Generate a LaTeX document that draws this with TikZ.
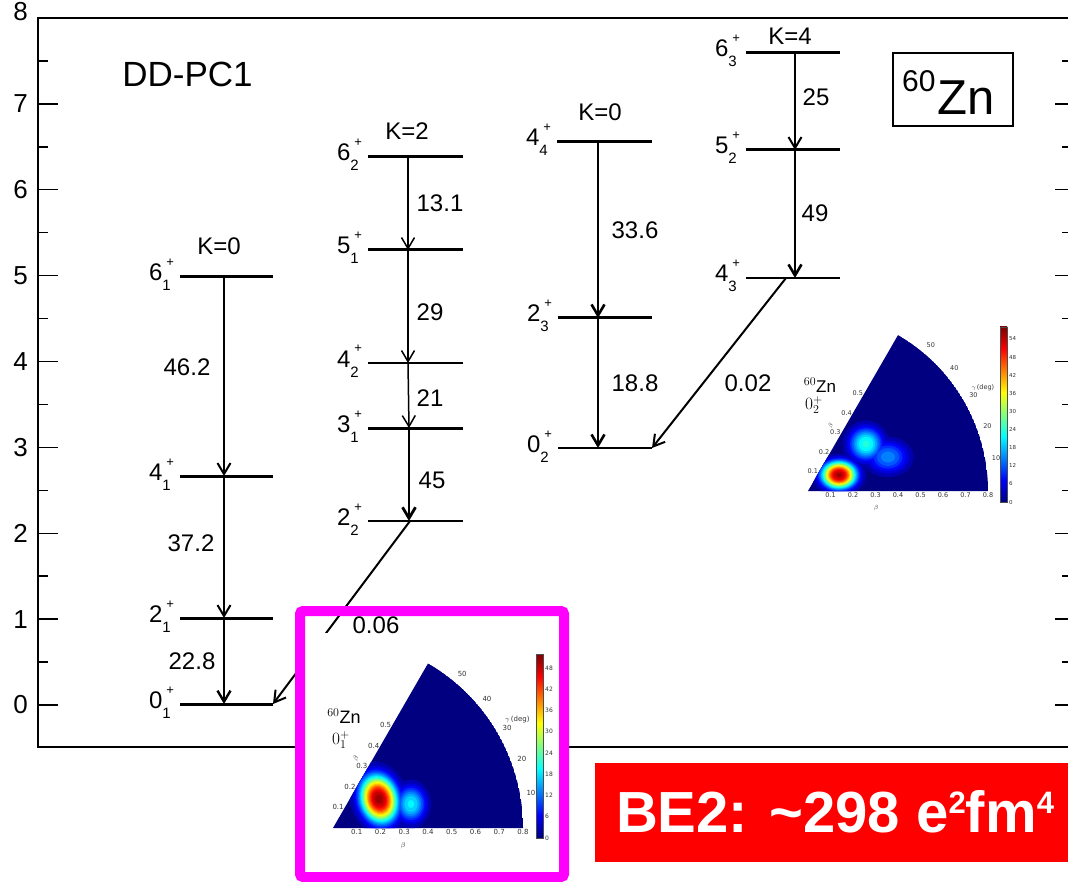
\documentclass[tikz,border=0pt]{standalone}
\usepackage[no-math]{fontspec}
\setmainfont{Liberation Sans}
\newfontfamily\dejavu{DejaVu Sans}
\usetikzlibrary{arrows.meta}
\definecolor{navyjet}{rgb}{0,0,0.5}
\definecolor{magbox}{rgb}{1,0,1}
\pgfdeclareverticalshading{jetbar}{100bp}{rgb(0bp)=(0,0,0.5); rgb(25bp)=(0,0,0.5); rgb(31.25bp)=(0,0,1); rgb(43.75bp)=(0,1,1); rgb(56.25bp)=(1,1,0); rgb(68.75bp)=(1,0,0); rgb(75bp)=(0.5,0,0); rgb(100bp)=(0.5,0,0)}
\newcommand{\lvl}[2]{#1\rlap{\kern4pt\raisebox{14pt}{\fontsize{13}{13}\selectfont +}}\raisebox{-10pt}{\fontsize{15}{15}\selectfont #2}}
\newcommand{\jetlevels}{0.03/0/0/0.70,0.07/0/0/0.86,0.11/0/0.02/1,0.15/0/0.18/1,0.19/0/0.34/1,0.23/0/0.50/1,0.27/0/0.66/1,0.31/0/0.82/1,0.35/0/0.98/1,0.39/0.14/1/0.86,0.43/0.30/1/0.70,0.47/0.46/1/0.54,0.51/0.62/1/0.38,0.55/0.78/1/0.22,0.59/0.94/1/0.06,0.63/1/0.90/0,0.67/1/0.74/0,0.71/1/0.58/0,0.75/1/0.42/0,0.79/1/0.26/0,0.83/1/0.10/0,0.87/0.94/0/0,0.91/0.78/0/0,0.95/0.62/0/0}
\newcommand{\myblobs}[1]{%
  \foreach \lev/\cR/\cG/\cB in \jetlevels {%
    \definecolor{jc}{rgb}{\cR,\cG,\cB}%
    \foreach \cx/\cy/\sx/\sy/\pk/\rot in {#1} {%
      \pgfmathtruncatemacro\ok{\pk>\lev}%
      \ifnum\ok=1
        \pgfmathsetmacro\fac{pow(ln(\pk/\lev),0.4)}%
        \pgfmathsetmacro\rx{\sx*\fac}%
        \pgfmathsetmacro\ry{\sy*\fac}%
        \fill[jc, rotate around={\rot:(\cx,\cy)}] (\cx,\cy) ellipse[x radius=\rx, y radius=\ry];
      \fi
    }%
  }%
}
\tikzset{
  lab/.style={font=\fontsize{24}{26}\selectfont, inner sep=0pt},
  axlab/.style={font=\fontsize{26}{28}\selectfont, inner sep=0pt},
  lvthick/.style={line width=3pt},
  lvthin/.style={line width=1.5pt},
  arr/.style={-{Straight Barb[length=11pt,width=13pt]}},
  axis/.style={line width=2.4pt},
  tickmk/.style={line width=1.5pt},
  itick/.style={font=\dejavu\fontsize{6.5}{7}\selectfont, inner sep=1pt, text=black!80},
  itickb/.style={font=\dejavu\fontsize{7}{7.5}\selectfont, inner sep=1pt, text=black!80},
}
\begin{document}
\begin{tikzpicture}[x=1pt,y=-1pt]
\useasboundingbox (0,0) rectangle (1068,882);
% ---------- axes ----------
\draw[axis] (38,18) -- (1072,18);
\draw[axis] (38,16.8) -- (38,747);
\draw[axis] (36.8,747) -- (1072,747);
\foreach \v in {0,...,7} {
  \draw[tickmk] (38,{705-85.875*\v}) -- (58,{705-85.875*\v});
  \draw[tickmk] (1055,{705-85.875*\v}) -- (1068,{705-85.875*\v});
  \draw[tickmk] (38,{705-85.875*(\v+0.5)}) -- (48,{705-85.875*(\v+0.5)});
  \draw[tickmk] (1062,{705-85.875*(\v+0.5)}) -- (1068,{705-85.875*(\v+0.5)});
  \node[axlab] (ax\v) at (20.5,{705-85.875*\v}) {\v};
}
\node[axlab] (ax8) at (20.5,12) {8};
\node[font=\fontsize{35}{37}\selectfont, inner sep=0pt] (title) at (187.5,74) {DD-PC1};
% 60Zn box
\node[draw, line width=1.3pt, minimum width=120pt, minimum height=73pt, inner sep=0pt] (znbox) at (953,89.5) {};
\node[anchor=base west, inner sep=0pt] (zn) at (902,115) {\raisebox{23pt}{\fontsize{30}{30}\selectfont 60}\kern1.5pt\fontsize{49}{49}\selectfont Zn};
% ---------- levels ----------
\draw[lvthick] (180,277) -- (273,277);
\draw[lvthick] (180,476) -- (273,476);
\draw[lvthick] (180,618) -- (273,618);
\draw[lvthick] (180,704) -- (273,704);
\draw[lvthick] (368,157) -- (463,157);
\draw[lvthick] (368,250) -- (463,250);
\draw[lvthin] (368,363) -- (463,363);
\draw[lvthick] (368,428) -- (463,428);
\draw[lvthin] (368,521) -- (463,521);
\draw[lvthick] (557,142) -- (652,142);
\draw[lvthick] (558,318) -- (652,318);
\draw[lvthin] (558,448) -- (652,448);
\draw[lvthick] (746,53) -- (840,53);
\draw[lvthick] (746,150) -- (840,150);
\draw[lvthin] (746,278) -- (840,278);
% coordinates
\coordinate (a61) at (224,277); \coordinate (a41) at (224,476);
\coordinate (a21) at (224,618); \coordinate (a01) at (224,704);
\coordinate (b62) at (408,157); \coordinate (b51) at (408,250);
\coordinate (b42) at (408,363); \coordinate (b31) at (409,428);
\coordinate (b22) at (409,521);
\coordinate (c44) at (598,142); \coordinate (c23) at (598,318);
\coordinate (c02) at (598,448);
\coordinate (d63) at (795,53); \coordinate (d52) at (795,150);
\coordinate (d43) at (795,278);
\coordinate (g22) at (410,521); \coordinate (g01) at (273,704);
\coordinate (g43) at (786,278); \coordinate (g02) at (652,448);
% arrows
\draw[arr, line width=2pt] (a61) -- (a41);
\draw[arr, line width=2pt] (a41) -- (a21);
\draw[arr, line width=2.4pt] (a21) -- (a01);
\draw[arr, line width=1.5pt] (b62) -- (b51);
\draw[arr, line width=1.5pt] (b51) -- (b42);
\draw[arr, line width=1.5pt] (b42) -- (b31);
\draw[arr, line width=2.8pt] (b31) -- (b22);
\draw[arr, line width=2.6pt] (c44) -- (c23);
\draw[arr, line width=2.6pt] (c23) -- (c02);
\draw[arr, line width=2pt] (d63) -- (d52);
\draw[arr, line width=2.6pt] (d52) -- (d43);
\draw[arr, line width=2pt] (g22) -- (g01);
\draw[arr, line width=2pt] (g43) -- (g02);
% level labels
\node[lab, anchor=base east] (l61) at (171,281) {\lvl{6}{1}};
\node[lab, anchor=base east] (l41) at (171,480) {\lvl{4}{1}};
\node[lab, anchor=base east] (l21) at (171,622) {\lvl{2}{1}};
\node[lab, anchor=base east] (l01) at (171,708) {\lvl{0}{1}};
\node[lab, anchor=base east] (l62) at (359,161) {\lvl{6}{2}};
\node[lab, anchor=base east] (l51) at (359,254) {\lvl{5}{1}};
\node[lab, anchor=base east] (l42) at (359,367) {\lvl{4}{2}};
\node[lab, anchor=base east] (l31) at (359,432) {\lvl{3}{1}};
\node[lab, anchor=base east] (l22) at (359,525) {\lvl{2}{2}};
\node[lab, anchor=base east] (l44) at (548,146) {\lvl{4}{4}};
\node[lab, anchor=base east] (l23) at (549,322) {\lvl{2}{3}};
\node[lab, anchor=base east] (l02) at (549,452) {\lvl{0}{2}};
\node[lab, anchor=base east] (l63) at (737,57) {\lvl{6}{3}};
\node[lab, anchor=base east] (l52) at (737,154) {\lvl{5}{2}};
\node[lab, anchor=base east] (l43) at (737,282) {\lvl{4}{3}};
% band labels
\node[lab] (k1) at (219,246) {K=0};
\node[lab] (k2) at (407,131) {K=2};
\node[lab] (k3) at (600,112) {K=0};
\node[lab] (k4) at (790,36) {K=4};
% transition values
\node[lab] (t1) at (187,367) {46.2};
\node[lab] (t2) at (191,543) {37.2};
\node[lab] (t3) at (192,661) {22.8};
\node[lab] (t4) at (440,203) {13.1};
\node[lab] (t5) at (430,312) {29};
\node[lab] (t6) at (430,398) {21};
\node[lab] (t7) at (432,480) {45};
\node[lab] (t8) at (635,230) {33.6};
\node[lab] (t9) at (635,383) {18.8};
\node[lab] (t10) at (748,383) {0.02};
\node[lab] (t11) at (816,97) {25};
\node[lab] (t12) at (815,213) {49};
% ---------- inset 1 (0_2+) ----------
\begin{scope}[shift={(808,491)}, yscale=-1]
  \begin{scope}
    \clip (0,0) -- (180,0) arc[start angle=0, end angle=60, radius=180] -- cycle;
    \fill[navyjet] (0,0) -- (180,0) arc[start angle=0, end angle=60, radius=180] -- cycle;
    \myblobs{80/34/19/15/0.25/0, 58/47/16/16/0.40/0, 31/16/16.5/13/0.96/0}
  \end{scope}
  \foreach \k in {1,...,5} \node[itick, anchor=east] (ia\k) at (60:{22.5*\k}) {0.\k};
  \foreach \k in {1,...,8} \node[itick, anchor=north] (ib\k) at ({22.5*\k},0) {0.\k};
  \foreach \k in {1,...,5} \node[itick] (ic\k) at ({10*\k}:191) {\k0};
  \node[itick] (igam) at (30.5:203) {$\gamma$\,(deg)};
  \node[itick, rotate=60] (ibeta1) at (23,65) {$\beta$};
  \node[itick] (ibeta2) at (68,-17) {$\beta$};
  \node[inner sep=0pt, font=\fontsize{17}{17}\selectfont] (izn) at (12,106) {$^{60}$Zn};
  \node[inner sep=0pt, font=\fontsize{17}{17}\selectfont] (ist) at (6,86) {$0^{+}_{2}$};
\end{scope}
\shadedraw[shading=jetbar, draw=black!70, line width=0.4pt] (1000,327) rectangle (1007,502);
\foreach \v in {0,6,...,54} \node[itick, anchor=west, font=\dejavu\fontsize{5.5}{6}\selectfont] (ca\v) at (1008,{502-3.02*\v}) {\v};
% ---------- inset 2 (0_1+) ----------
\fill[white] (295,606) rectangle (569,882);
\begin{scope}
  \clip (300,611) rectangle (564,632);
  \draw[line width=2pt] (g22) -- (g01);
\end{scope}
\node[lab] (t13) at (376,625) {0.06};
\begin{scope}[shift={(333,828)}, yscale=-1]
  \begin{scope}
    \clip (0,0) -- (190,0) arc[start angle=0, end angle=60, radius=190] -- cycle;
    \fill[navyjet] (0,0) -- (190,0) arc[start angle=0, end angle=60, radius=190] -- cycle;
    \myblobs{78/24/14/17/0.36/0, 46/29/17.5/23/0.97/-15}
  \end{scope}
  \foreach \k in {1,...,5} \node[itickb, anchor=east] (ja\k) at (60:{23.75*\k}) {0.\k};
  \foreach \k in {1,...,8} \node[itickb, anchor=north] (jb\k) at ({23.75*\k},0) {0.\k};
  \foreach \k in {1,...,5} \node[itickb] (jc\k) at ({10*\k}:201) {\k0};
  \node[itickb] (jgam) at (30.5:214) {$\gamma$\,(deg)};
  \node[itickb, rotate=60] (jbeta1) at (23,69) {$\beta$};
  \node[itickb] (jbeta2) at (70,-18) {$\beta$};
  \node[inner sep=0pt, font=\fontsize{18}{18}\selectfont] (jzn) at (11,112) {$^{60}$Zn};
  \node[inner sep=0pt, font=\fontsize{18}{18}\selectfont] (jst) at (8,88) {$0^{+}_{1}$};
\end{scope}
\shadedraw[shading=jetbar, draw=black!70, line width=0.4pt] (536,654) rectangle (543,838);
\foreach \v in {0,6,...,48} \node[itickb, anchor=west, font=\dejavu\fontsize{6}{6.5}\selectfont] (cb\v) at (544,{838-3.54*\v}) {\v};
\draw[magbox, line width=10pt, rounded corners=3pt] (300,611) rectangle (564,877);
% ---------- BE2 box ----------
\fill[red] (595,763) rectangle (1068,862);
\node[text=white, font=\bfseries\fontsize{58}{60}\selectfont, inner sep=0pt] (be2) at (835,812) {BE2: \textasciitilde298 e\raisebox{19pt}{\fontsize{31}{31}\selectfont 2}fm\raisebox{19pt}{\fontsize{31}{31}\selectfont 4}};
\end{tikzpicture}
\end{document}
